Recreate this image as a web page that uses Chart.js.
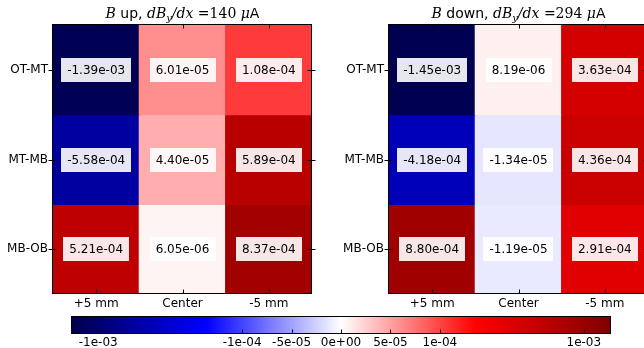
<!DOCTYPE html>
<html><head><meta charset="utf-8">
<script src="https://cdn.jsdelivr.net/npm/chart.js@4"></script>
<style>
html,body{margin:0;padding:0;background:#fff;overflow:hidden;width:644px;height:348px;}
canvas{position:absolute;}
</style></head><body>
<canvas id="c1" width="330" height="315" style="left:0;top:0"></canvas>
<canvas id="c2" width="313" height="315" style="left:336px;top:0"></canvas>
<canvas id="cb" width="644" height="38" style="left:0;top:310px"></canvas>
<script>
// ---- data ----
const rowLabels = ["OT-MT", "MT-MB", "MB-OB"];
const colLabels = ["+5 mm", "Center", "-5 mm"];
const upValues = [
  [-1.39e-3, 6.01e-5, 1.08e-4],
  [-5.58e-4, 4.40e-5, 5.89e-4],
  [ 5.21e-4, 6.05e-6, 8.37e-4]
];
const downValues = [
  [-1.45e-3,  8.19e-6, 3.63e-4],
  [-4.18e-4, -1.34e-5, 4.36e-4],
  [ 8.80e-4, -1.19e-5, 2.91e-4]
];
const upTitle = [["B","mi"],[" up, ","rm"],["dB","mi"],["y","sub"],["/dx","mi"],[" =","mr"],["140","mr"],[" ","rm"],["\u03bc","mi"],["A","rm"]];
const downTitle = [["B","mi"],[" down, ","rm"],["dB","mi"],["y","sub"],["/dx","mi"],[" =","mr"],["294","mr"],[" ","rm"],["\u03bc","mi"],["A","rm"]];
const cbTickValues = [-1e-3, -1e-4, -5e-5, 0, 5e-5, 1e-4, 1e-3];
const cbTickLabels = ["-1e-03", "-1e-04", "-5e-05", "0e+00", "5e-05", "1e-04", "1e-03"];
const linthresh = 1e-4, linscale = 1, vmax = 1.52e-3;

// ---- colour mapping (symlog norm + seismic) ----
const linAdj = linscale / (1 - 1 / Math.E);
function symlog(v) {
  const a = Math.abs(v);
  if (a <= linthresh) return v * linAdj;
  return Math.sign(v) * linthresh * (linAdj + Math.log(a / linthresh));
}
const U = symlog(vmax);
const seismicStops = [[0,0,0.3],[0,0,1],[1,1,1],[1,0,0],[0.5,0,0]];
function seismic(t) {
  t = Math.max(0, Math.min(1, t));
  const p = t * 4, i = Math.min(3, Math.floor(p)), f = p - i;
  const a = seismicStops[i], b = seismicStops[i + 1];
  const c = a.map((x, k) => Math.round(255 * (x + (b[k] - x) * f)));
  return `rgb(${c[0]},${c[1]},${c[2]})`;
}
function colorFor(v) { return seismic((symlog(v) + U) / (2 * U)); }
function fmt(v) { return v.toExponential(2).replace(/e([+-])(\d)$/, 'e$10$2'); }

const FONT = '"DejaVu Sans", sans-serif';

const heatPlugin = {
  id: 'heat',
  afterDatasetsDraw(chart, args, opts) {
    const ctx = chart.ctx, a = chart.chartArea;
    ctx.save();
    ctx.font = '12px ' + FONT;
    ctx.textAlign = 'center';
    ctx.textBaseline = 'middle';
    chart.data.datasets.forEach((ds, i) => {
      chart.getDatasetMeta(i).data.forEach((el, j) => {
        const v = opts.values[i][j];
        const txt = fmt(v);
        const x = el.x, y = (el.y + el.base) / 2;
        const w = ctx.measureText(txt).width + 12, h = 24;
        ctx.fillStyle = 'rgba(255,255,255,0.9)';
        ctx.fillRect(Math.round(x - w / 2), Math.round(y - h / 2), Math.round(w), h);
        ctx.fillStyle = '#000';
        ctx.fillText(txt, x, y + 1);
      });
    });
    // frame
    ctx.strokeStyle = '#000';
    ctx.lineWidth = 1;
    const L = Math.round(a.left) - 0.5, T = Math.round(a.top) - 0.5;
    const R = Math.round(a.right) - 0.5, B = Math.round(a.bottom) - 0.5;
    ctx.strokeRect(L, T, R - L, B - T);
    // ticks
    ctx.beginPath();
    const xs = chart.scales.x, ys = chart.scales.y;
    colLabels.forEach((_, j) => {
      const px = Math.round(xs.getPixelForTick(j)) + 0.5;
      ctx.moveTo(px, T); ctx.lineTo(px, T + 4);
      ctx.moveTo(px, B); ctx.lineTo(px, B - 4);
    });
    ys.ticks.forEach((t) => {
      const py = Math.round(ys.getPixelForValue(t.value)) + 0.5;
      ctx.moveTo(L - 4, py); ctx.lineTo(L + 4, py);
      ctx.moveTo(R - 4, py); ctx.lineTo(R + 4, py);
    });
    ctx.stroke();
    // title
    const fonts = {
      rm: '14px ' + FONT,
      mi: 'italic 14px "DejaVu Serif", serif',
      mr: '14px "DejaVu Serif", serif',
      sub: 'italic 10px "DejaVu Serif", serif'
    };
    let total = 0;
    const widths = opts.title.map(([s, k]) => { ctx.font = fonts[k]; const w = ctx.measureText(s).width; total += w; return w; });
    let cx = (a.left + a.right) / 2 - total / 2;
    const base = 18;
    ctx.textAlign = 'left';
    ctx.textBaseline = 'alphabetic';
    ctx.fillStyle = '#000';
    opts.title.forEach(([s, k], i) => {
      ctx.font = fonts[k];
      ctx.fillText(s, cx, k === 'sub' ? base + 3 : base);
      cx += widths[i];
    });
    ctx.restore();
  }
};

function makeHeatmap(id, values, title, padRight) {
  return new Chart(document.getElementById(id), {
    type: 'bar',
    data: {
      labels: colLabels,
      datasets: rowLabels.map((r, i) => ({
        label: r,
        data: colLabels.map(() => [i, i + 1]),
        backgroundColor: values[i].map(colorFor),
        borderWidth: 0,
        barPercentage: 1,
        categoryPercentage: 1,
        inflateAmount: 0.6
      }))
    },
    options: {
      responsive: false, animation: false, events: [],
      layout: { padding: { top: 25, left: 0, right: padRight, bottom: 0 } },
      plugins: { legend: { display: false }, tooltip: { enabled: false }, heat: { values, title } },
      scales: {
        x: {
          stacked: true,
          grid: { display: false, drawTicks: false, tickLength: 0 },
          border: { display: false },
          ticks: { color: '#000', font: { family: FONT, size: 12 }, padding: 3, maxRotation: 0, autoSkip: false },
          afterFit(s) { s.height = 21; }
        },
        y: {
          stacked: false, min: 0, max: 3, reverse: true,
          grid: { display: false, drawTicks: false, tickLength: 0 },
          border: { display: false },
          afterBuildTicks(s) { s.ticks = rowLabels.map((_, i) => ({ value: i + 0.5 })); },
          ticks: { color: '#000', font: { family: FONT, size: 12 }, padding: 5, autoSkip: false,
                   callback: (v, i) => rowLabels[i] },
          afterFit(s) { s.width = 53; }
        }
      }
    },
    plugins: [heatPlugin]
  });
}

makeHeatmap('c1', upValues, upTitle, 18);
makeHeatmap('c2', downValues, downTitle, 1);

const cbPlugin = {
  id: 'cbar',
  beforeDatasetsDraw(chart) {
    const ctx = chart.ctx, a = chart.chartArea;
    const g = ctx.createLinearGradient(a.left, 0, a.right, 0);
    seismicStops.forEach((c, i) => g.addColorStop(i / 4, `rgb(${Math.round(c[0]*255)},${Math.round(c[1]*255)},${Math.round(c[2]*255)})`));
    ctx.save();
    ctx.fillStyle = g;
    ctx.fillRect(a.left, a.top, a.right - a.left, a.bottom - a.top);
    ctx.restore();
  },
  afterDraw(chart) {
    const ctx = chart.ctx, a = chart.chartArea;
    ctx.save();
    ctx.strokeStyle = '#000'; ctx.lineWidth = 1;
    const L = Math.round(a.left) - 0.5, T = Math.round(a.top) - 0.5;
    const R = Math.round(a.right) + 0.5, B = Math.round(a.bottom) + 0.5;
    ctx.strokeRect(L, T, R - L, B - T);
    ctx.beginPath();
    const xs = chart.scales.x;
    xs.ticks.forEach(t => {
      const px = Math.round(xs.getPixelForValue(t.value)) + 0.5;
      ctx.moveTo(px, B); ctx.lineTo(px, B - 4);
    });
    ctx.stroke();
    ctx.restore();
  }
};

new Chart(document.getElementById('cb'), {
  type: 'scatter',
  data: { datasets: [{ data: [] }] },
  options: {
    responsive: false, animation: false, events: [],
    layout: { padding: { top: 7, left: 72, right: 34, bottom: 0 } },
    plugins: { legend: { display: false }, tooltip: { enabled: false } },
    scales: {
      x: {
        type: 'linear', min: -U, max: U,
        grid: { display: false, drawTicks: false, tickLength: 0 },
        border: { display: false },
        afterBuildTicks(s) { s.ticks = cbTickValues.map(v => ({ value: symlog(v) })); },
        ticks: { autoSkip: false, maxRotation: 0, padding: 3, color: '#000',
                 font: { family: FONT, size: 12 }, callback: (v, i) => cbTickLabels[i] },
        afterFit(s) { s.height = 15; }
      },
      y: { display: false, min: 0, max: 1 }
    }
  },
  plugins: [cbPlugin]
});
</script>
</body></html>
